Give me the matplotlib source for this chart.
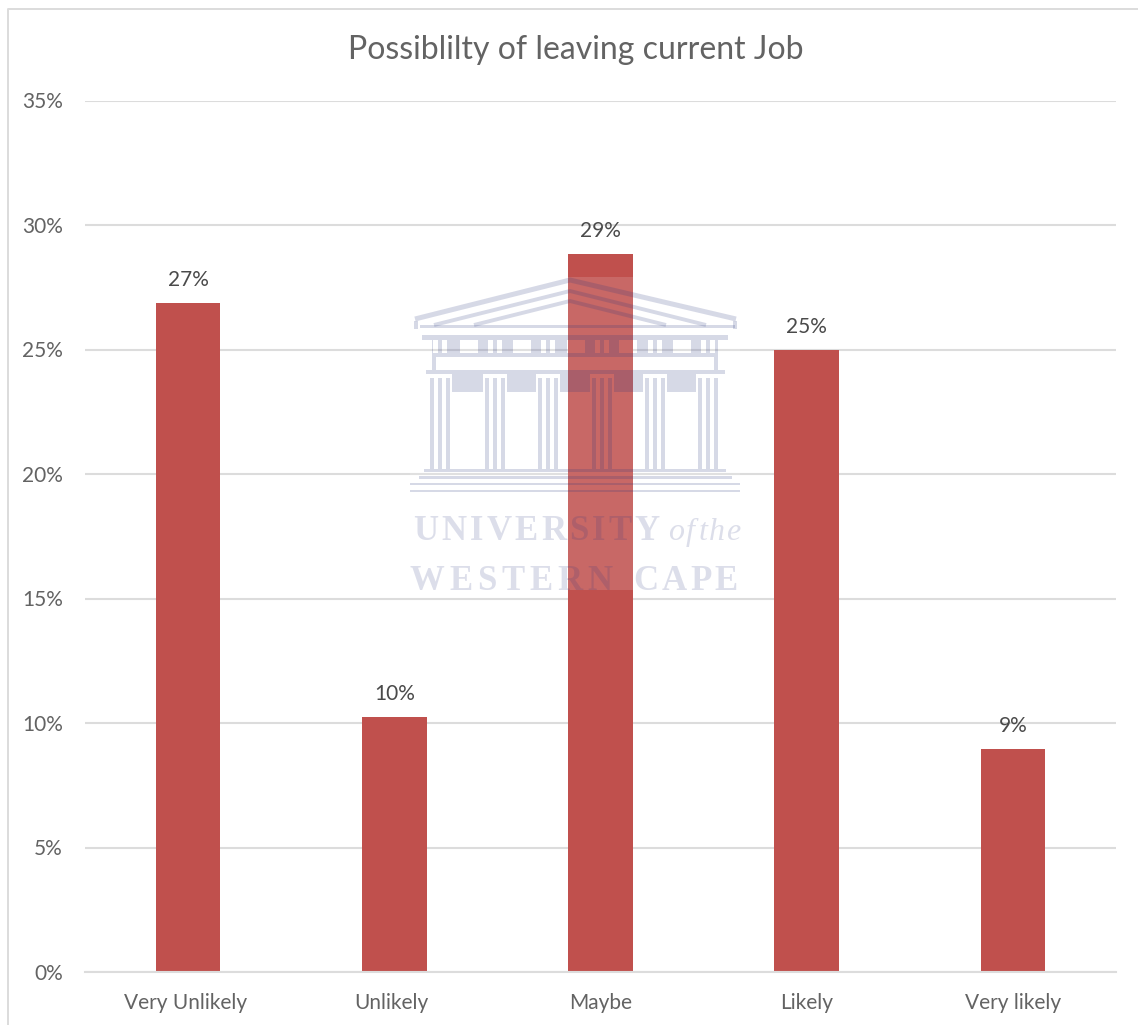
import numpy as np
import matplotlib
matplotlib.use("Agg")
import matplotlib.pyplot as plt
from matplotlib.patches import Rectangle
from matplotlib.transforms import Affine2D

categories = ["Very Unlikely", "Unlikely", "Maybe", "Likely", "Very likely"]
values = [26.9, 10.25, 28.85, 25.0, 8.96]
value_labels = ["27%", "10%", "29%", "25%", "9%"]
y_ticks = [0, 5, 10, 15, 20, 25, 30, 35]
y_tick_labels = ["0%", "5%", "10%", "15%", "20%", "25%", "30%", "35%"]
title = "Possiblilty of leaving current Job"

W, H = 1138, 1025
plt.rcParams['font.family'] = ['Lato', 'DejaVu Sans']

fig = plt.figure(figsize=(W / 100, H / 100), dpi=100)
ax = fig.add_axes([85 / W, 1 - 972 / H, (1116 - 85) / W, (972 - 101) / H])

x = np.arange(len(categories))
ax.bar(x, values, width=0.313, color="#c0504d", zorder=2)
ax.set_xlim(-0.5, 4.5)
ax.set_ylim(0, 35)
ax.set_yticks(y_ticks, y_tick_labels)
ax.set_xticks(x, categories)
ax.grid(axis="y", color="#dcdcdc", lw=1.5, zorder=1)
ax.set_axisbelow(True)
for s in ["top", "right", "left"]:
    ax.spines[s].set_visible(False)
ax.spines["bottom"].set_color("#dcdcdc")
ax.spines["bottom"].set_linewidth(1.5)
ax.tick_params(axis="both", length=0, labelsize=15, labelcolor="#636363")
ax.tick_params(axis="y", pad=16)
ax.tick_params(axis="x", pad=15)

# the scan sits a little off: first two x labels to the left
for lab, dx in zip(ax.get_xticklabels(), [-3, -3, 0, 0, 0]):
    lab.set_transform(lab.get_transform() + Affine2D().translate(dx, 0))
for lab in ax.get_yticklabels():
    lab.set_transform(lab.get_transform() + Affine2D().translate(0, 0.5))

for xi, v, lab in zip(x, values, value_labels):
    ax.annotate(lab, (xi, v), xytext=(0, 23), textcoords="offset pixels",
                ha="center", va="center", fontsize=15, color="#4a4a4a")

fig.text(576 / W, 1 - 50 / H, title, ha="center", va="center", fontsize=23,
         color="#636363")

# overlay in pixel coordinates for the frame and the watermark
ov = fig.add_axes([0, 0, 1, 1], zorder=5)
ov.set_xlim(0, W)
ov.set_ylim(H, 0)
ov.axis("off")
ov.patch.set_alpha(0)

ov.plot([8.5, 8.5, W], [H, 8.5, 8.5], color="#dcdcdc", lw=1.4)

# scanned page lightens whatever sits under the crest
ov.add_patch(Rectangle((410, 277), 330, 313, color="white", alpha=0.14, lw=0))

wm = "#28357f"
wa = 0.19


def box(x0, y0, x1, y1):
    ov.add_patch(Rectangle((x0, y0), x1 - x0, y1 - y0, facecolor=wm, alpha=wa, lw=0))


def line(xs, ys, lw):
    ov.plot(xs, ys, color=wm, alpha=wa, lw=lw, solid_joinstyle="miter", solid_capstyle="butt")


cols = [440, 495, 548, 602, 655, 708]
windows = [469, 522, 576, 628, 682]

# pediment
line([415, 570, 736], [319, 280, 319], 3.6)
line([434, 570, 706], [325, 291, 325], 2.8)
line([474, 570, 666], [325, 301, 325], 2.8)
box(414, 321, 418, 329)
box(733, 321, 737, 329)
# entablature
box(420, 325, 735, 328)
box(422, 335, 728, 340)
box(432, 353, 718, 357)
# frieze between the top and bottom strips, leaving slits and windows open
openings = sorted([(c - 7, c - 2) for c in cols] + [(c + 2, c + 7) for c in cols]
                  + [(w - 9, w + 9) for w in windows])
pos = 432
for a, b in openings:
    if a > pos:
        box(pos, 340, a, 353)
    pos = b
box(pos, 340, 718, 353)
box(432, 357, 436, 370)
box(714, 357, 718, 370)
# lower band with white capitals
box(426, 370, 725, 374)
for c0, c1 in zip(cols[:-1], cols[1:]):
    box(c0 + 12, 374, c1 - 12, 392)
# columns
for cx in cols:
    for off in [-10, -2, 6]:
        box(cx + off, 378, cx + off + 4.5, 469)
# steps
box(424, 469, 726, 472)
box(419, 476, 732, 479)
box(410, 483, 740, 485)
box(410, 490, 740, 492)


def spaced(s, x0, x1, y, **kw):
    # letters evenly spread between x0 and x1
    r = fig.canvas.get_renderer()
    items = [ov.text(0, y, c, ha="left", va="baseline", color=wm, alpha=wa * 0.85,
                     family="Liberation Serif", **kw) for c in s]
    widths = [t.get_window_extent(r).width if c != " " else 0 for t, c in zip(items, s)]
    gap = (x1 - x0 - sum(widths)) / (len(s) - 1)
    pos = x0
    for t, w in zip(items, widths):
        t.set_x(pos)
        pos += w + gap


spaced("UNIVERSITY", 413, 660, 540, fontsize=25, fontweight="bold")
spaced("of  the", 668, 740, 540, fontsize=23, style="italic")
spaced("WESTERN", 410, 613, 590, fontsize=25, fontweight="bold")
spaced("CAPE", 633, 738, 590, fontsize=25, fontweight="bold")

fig.savefig("out.png", dpi=100)
